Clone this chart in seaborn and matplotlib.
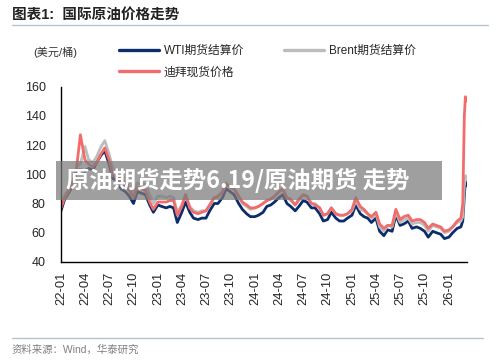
import numpy as np
import pandas as pd
import matplotlib
matplotlib.use('Agg')
import matplotlib.pyplot as plt
import matplotlib.dates as mdates
from matplotlib.lines import Line2D
from matplotlib.patches import Rectangle
import seaborn as sns

# ─── data (semi-monthly reading of the chart, plus the final spike) ─────────
dates = list(pd.date_range('2022-01-01', '2026-02-15', freq='SMS')) + \
    list(pd.to_datetime(['2026-02-22', '2026-02-28', '2026-03-04', '2026-03-10']))

wti = [75, 83, 88, 92, 103, 103, 102, 104, 103, 108, 113, 116,
       107, 97, 96, 90, 88, 85, 80, 88, 87, 86, 79, 74,
       79, 78, 77, 78, 77, 67, 74, 81, 74, 70, 69, 70,
       70, 75, 80, 80, 84, 90, 88, 86, 80, 76, 73, 71,
       71, 72, 74, 78, 79, 81, 84, 86, 80, 78, 75, 78,
       82, 81, 77, 77, 73, 68, 69, 74, 70, 68, 68, 70,
       72, 79, 73, 71, 70, 67, 70, 61, 58, 62, 61, 72,
       65, 66, 68, 63, 64, 63, 61, 57, 61, 60, 59, 56,
       57, 60, 63, 64, 68, 85, 96, 92]
brent = [78, 86, 90, 95, 105, 107, 119, 110, 108, 112, 119, 123,
         114, 104, 103, 97, 95, 91, 87, 94, 93, 93, 86, 80,
         85, 85, 84, 85, 84, 74, 79, 86, 78, 75, 74, 75,
         75, 79, 84, 84, 88, 94, 91, 90, 85, 80, 78, 76,
         77, 78, 80, 82, 83, 85, 88, 90, 84, 82, 79, 82,
         86, 85, 80, 80, 77, 72, 73, 77, 73, 72, 72, 73,
         75, 82, 76, 75, 73, 70, 73, 64, 61, 65, 64, 74,
         67, 69, 70, 66, 67, 67, 65, 61, 65, 64, 63, 60,
         61, 64, 67, 68, 71, 92, 99, 96]
dubai = [77, 84, 89, 93, 105, 127, 110, 107, 105, 108, 114, 118,
         110, 99, 98, 94, 92, 89, 84, 91, 90, 89, 81, 76,
         81, 81, 81, 82, 82, 72, 78, 86, 77, 74, 73, 74,
         75, 79, 84, 85, 88, 93, 91, 90, 85, 81, 79, 77,
         77, 78, 80, 82, 83, 85, 88, 90, 84, 83, 79, 83,
         86, 85, 80, 79, 77, 72, 73, 77, 73, 72, 72, 73,
         76, 84, 78, 76, 73, 71, 74, 66, 63, 65, 65, 76,
         69, 71, 72, 68, 69, 69, 67, 63, 66, 65, 64, 61,
         62, 64, 68, 70, 80, 140, 153, 150]

names = ['WTI期货结算价', 'Brent期货结算价', '迪拜现货价格']
colors = ['#0c2d6b', '#bdbdbd', '#f26c6c']
tick_dates = pd.date_range('2022-01-01', '2026-01-01', freq='QS')

df = pd.DataFrame({
    'date': dates * 3,
    'price': wti + brent + dubai,
    'series': [names[0]] * len(dates) + [names[1]] * len(dates) + [names[2]] * len(dates),
})

# ─── figure ─────────────────────────────────────────────────────────────────
sns.set_style('white')
plt.rcParams['font.family'] = ['Liberation Sans', 'Noto Sans CJK SC']

fig = plt.figure(figsize=(5.0, 3.62), dpi=100)
ax = fig.add_axes([61 / 500, 1 - 262 / 362, (467 - 61) / 500, (262 - 86.5) / 362])

sns.lineplot(data=df, x='date', y='price', hue='series', hue_order=names,
             palette=colors, linewidth=2.0, ax=ax, legend=False)

ax.set_ylim(40, 160)
ax.set_yticks(range(40, 161, 20))
ax.set_xlim(pd.Timestamp('2022-01-01'), pd.Timestamp('2026-03-10'))
ax.set_xticks(tick_dates)
ax.xaxis.set_major_formatter(mdates.DateFormatter('%y-%m'))
ax.set_xlabel('')
ax.set_ylabel('')
ax.tick_params(axis='x', rotation=90, labelsize=9.3, direction='inout', length=6, width=1, pad=4)
ax.tick_params(axis='y', labelsize=9, direction='out', length=5, width=1, pad=6)
for s in ['top', 'right']:
    ax.spines[s].set_visible(False)
for s in ['left', 'bottom']:
    ax.spines[s].set_color('black')
    ax.spines[s].set_linewidth(1)

# legend: WTI / Dubai in first column, Brent in second
handles = [Line2D([], [], color=colors[i], lw=2.4) for i in (0, 2, 1)]
labels = [names[i] for i in (0, 2, 1)]
fig.legend(handles, labels, ncol=2, loc='upper left',
           bbox_to_anchor=(119 / 500, 1 - 45 / 362), frameon=False,
           fontsize=8.5, handlelength=3.4, handletextpad=0.4,
           columnspacing=3.4, labelspacing=0.8, borderpad=0, borderaxespad=0)

fig.text(33 / 500, 1 - 52 / 362, '(美元/桶)', fontsize=8, color='#333333', va='center')

# title, rules, source
fig.text(12 / 500, 1 - 15 / 362, '图表1:  国际原油价格走势', fontsize=10.5,
         fontweight='bold', va='center', color='#222222')
fig.add_artist(Line2D([12 / 500, 488 / 500], [1 - 24.5 / 362] * 2, color='#b4c3d6', lw=1))
fig.add_artist(Line2D([12 / 500, 483 / 500], [1 - 338 / 362] * 2, color='#b4c3d6', lw=1))
fig.text(12 / 500, 1 - 350 / 362, '资料来源：Wind，华泰研究', fontsize=7.5,
         color='#808080', va='center')

# watermark banner
fig.add_artist(Rectangle((56 / 500, 1 - 200 / 362), (442 - 56) / 500, 39 / 362,
                         transform=fig.transFigure, facecolor='#7a7a7a', alpha=0.72,
                         edgecolor='none', zorder=5))
fig.text(66 / 500, 1 - 180.5 / 362, '原油期货走势6.19/原油期货 走势', fontsize=16.8,
         fontweight='bold', color='white', va='center', zorder=6,
         family=['Noto Sans CJK SC', 'DejaVu Sans'])

fig.savefig('out.png', dpi=100)
